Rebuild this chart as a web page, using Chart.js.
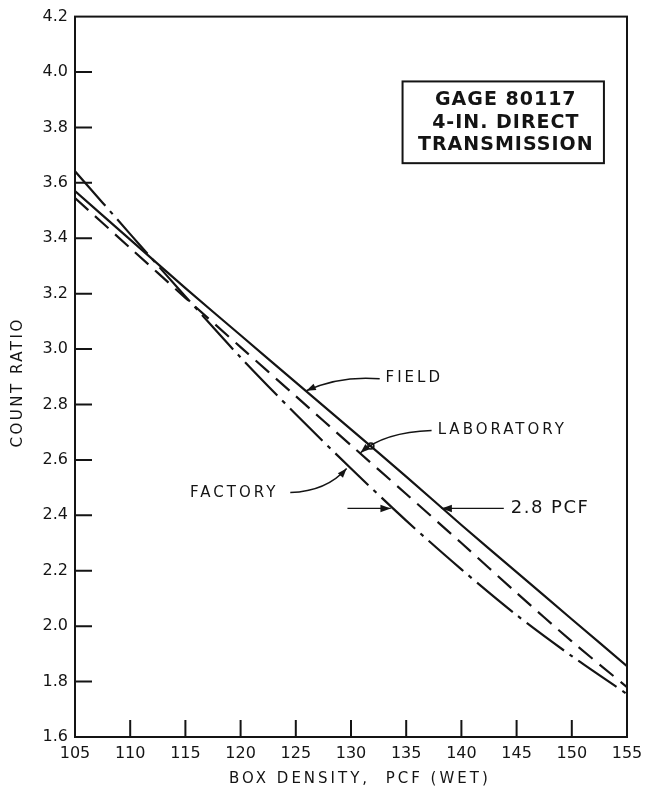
<!DOCTYPE html>
<html>
<head>
<meta charset="utf-8">
<script src="https://cdn.jsdelivr.net/npm/chart.js@4.4.1/dist/chart.umd.min.js"></script>
<style>
  html, body { margin: 0; padding: 0; background: #fff; }
  #wrap { width: 653px; height: 791px; }
</style>
</head>
<body>
<div id="wrap"><canvas id="gage" width="653" height="791"></canvas></div>
<script>
// Values: box density (pcf, wet) vs count ratio
const densities = [105, 110, 115, 120, 125, 130, 135, 140, 145, 150, 155];
const fieldRatio = [3.57, 3.395, 3.22, 3.05, 2.88, 2.71, 2.54, 2.365, 2.195, 2.025, 1.856];
const labRatio = [3.545, 3.365, 3.185, 3.007, 2.83, 2.653, 2.477, 2.30, 2.12, 1.945, 1.78];
const factoryRatio = [3.642, 3.415, 3.19, 2.97, 2.765, 2.569, 2.381, 2.205, 2.04, 1.892, 1.755];

const xTicks = { min: 105, max: 155, step: 5 };
const yTicks = { min: 1.6, max: 4.2, step: 0.2 };

const xTitle = 'BOX DENSITY,  PCF (WET)';
const yTitle = 'COUNT RATIO';
const boxLines = ['GAGE 80117', '4-IN. DIRECT', 'TRANSMISSION'];

const ink = '#141414';
const font = 'DejaVu Sans';

function toPoints(ys) {
    return densities.map((d, i) => ({ x: d, y: ys[i] }));
}

// Inward tick marks + closed frame + spaced-out axis titles
const frameAndTicks = {
    id: 'frameAndTicks',
    afterDraw(chart) {
        const { ctx, chartArea: a, scales: { x, y } } = chart;
        const len = 17;
        ctx.save();
        ctx.strokeStyle = ink;
        ctx.lineWidth = 2;
        ctx.strokeRect(a.left, a.top, a.right - a.left, a.bottom - a.top);
        ctx.beginPath();
        x.ticks.forEach(t => {
            const px = x.getPixelForValue(t.value);
            if (px > a.left + 2 && px < a.right - 2) { ctx.moveTo(px, a.bottom); ctx.lineTo(px, a.bottom - len); }
        });
        y.ticks.forEach(t => {
            const py = y.getPixelForValue(t.value);
            if (py > a.top + 2 && py < a.bottom - 2) { ctx.moveTo(a.left, py); ctx.lineTo(a.left + len, py); }
        });
        ctx.stroke();

        ctx.fillStyle = ink;
        ctx.font = `15px "${font}"`;
        ctx.textAlign = 'center';
        ctx.textBaseline = 'middle';
        ctx.letterSpacing = '3px';
        ctx.fillText(xTitle, x.getPixelForValue(130.8), 779);
        ctx.translate(18, y.getPixelForValue(2.88));
        ctx.rotate(-Math.PI / 2);
        ctx.letterSpacing = '2.5px';
        ctx.fillText(yTitle, 0, 0);
        ctx.restore();
    }
};

function arrowHead(ctx, fromX, fromY, tipX, tipY, size) {
    const ang = Math.atan2(tipY - fromY, tipX - fromX);
    ctx.beginPath();
    ctx.moveTo(tipX, tipY);
    ctx.lineTo(tipX - size * Math.cos(ang - 0.35), tipY - size * Math.sin(ang - 0.35));
    ctx.lineTo(tipX - size * Math.cos(ang + 0.35), tipY - size * Math.sin(ang + 0.35));
    ctx.closePath();
    ctx.fill();
}

// Callouts, positioned in data units
const callouts = {
    id: 'callouts',
    afterDatasetsDraw(chart) {
        const { ctx, scales: { x, y } } = chart;
        const X = v => x.getPixelForValue(v);
        const Y = v => y.getPixelForValue(v);
        ctx.save();
        ctx.strokeStyle = ink;
        ctx.fillStyle = ink;

        // title box
        const bx0 = X(134.67), bx1 = X(152.91), by0 = Y(3.966), by1 = Y(3.671);
        ctx.fillStyle = '#fff';
        ctx.fillRect(bx0, by0, bx1 - bx0, by1 - by0);
        ctx.fillStyle = ink;
        ctx.lineWidth = 2;
        ctx.strokeRect(bx0, by0, bx1 - bx0, by1 - by0);
        ctx.font = `bold 19px "${font}"`;
        ctx.textAlign = 'center';
        ctx.textBaseline = 'middle';
        ctx.letterSpacing = '1px';
        [3.899, 3.816, 3.737].forEach((v, i) => ctx.fillText(boxLines[i], X(144.02), Y(v)));

        // curve labels
        ctx.font = `15px "${font}"`;
        ctx.letterSpacing = '3px';
        ctx.textAlign = 'left';
        ctx.fillText('FIELD', X(133.13), Y(2.896));
        ctx.fillText('LABORATORY', X(137.85), Y(2.706));
        ctx.textAlign = 'right';
        ctx.fillText('FACTORY', X(123.42), Y(2.482));

        ctx.lineWidth = 1.5;
        const leader = (sx, sy, cx, cy, tx, ty) => {
            ctx.beginPath();
            ctx.moveTo(X(sx), Y(sy));
            ctx.quadraticCurveTo(X(cx), Y(cy), X(tx), Y(ty));
            ctx.stroke();
            arrowHead(ctx, X(cx), Y(cy), X(tx), Y(ty), 10);
        };
        leader(132.6, 2.893, 129.0, 2.905, 125.96, 2.85);
        leader(137.3, 2.706, 133.0, 2.70, 130.86, 2.626);
        leader(124.5, 2.482, 127.8, 2.487, 129.6, 2.569);

        // small marker where the laboratory leader crosses the field line
        ctx.beginPath();
        ctx.arc(X(131.8), Y(2.65), 3, 0, Math.PI * 2);
        ctx.stroke();

        // 2.8 PCF offset arrows
        const ay = Y(2.425);
        ctx.lineWidth = 1.2;
        ctx.beginPath();
        ctx.moveTo(X(129.68), ay); ctx.lineTo(X(133.6), ay);
        ctx.moveTo(X(138.2), ay); ctx.lineTo(X(143.84), ay);
        ctx.stroke();
        arrowHead(ctx, X(129.68), ay, X(133.6), ay, 11);
        arrowHead(ctx, X(143.84), ay, X(138.2), ay, 11);
        ctx.font = `18px "${font}"`;
        ctx.letterSpacing = '1.5px';
        ctx.textAlign = 'left';
        ctx.fillText('2.8 PCF', X(144.47), ay);
        ctx.restore();
    }
};

const lineStyle = { borderColor: ink, borderWidth: 2.2, pointRadius: 0, tension: 0.3, fill: false, borderCapStyle: 'butt' };

new Chart(document.getElementById('gage'), {
    type: 'line',
    data: {
        datasets: [
            { label: 'Field', data: toPoints(fieldRatio), ...lineStyle },
            { label: 'Laboratory', data: toPoints(labRatio), ...lineStyle, borderDash: [18, 9] },
            { label: 'Factory', data: toPoints(factoryRatio), ...lineStyle, borderDash: [46, 7, 4, 7] }
        ]
    },
    options: {
        responsive: false,
        animation: false,
        devicePixelRatio: 1,
        layout: { padding: { top: 15, right: 26, left: 0, bottom: 0 } },
        plugins: { legend: { display: false }, tooltip: { enabled: false } },
        scales: {
            x: {
                type: 'linear',
                min: xTicks.min,
                max: xTicks.max,
                ticks: { stepSize: xTicks.step, color: ink, padding: 7, font: { family: font, size: 16 }, callback: v => String(v) },
                grid: { drawOnChartArea: false, drawTicks: false },
                border: { color: ink, width: 2 },
                afterFit: s => { s.height = 54; }
            },
            y: {
                min: yTicks.min,
                max: yTicks.max,
                ticks: { stepSize: yTicks.step, color: ink, padding: 7, font: { family: font, size: 16 }, callback: v => v.toFixed(1) },
                grid: { drawOnChartArea: false, drawTicks: false },
                border: { color: ink, width: 2 },
                afterFit: s => { s.width = 75; }
            }
        }
    },
    plugins: [frameAndTicks, callouts]
});
</script>
</body>
</html>
